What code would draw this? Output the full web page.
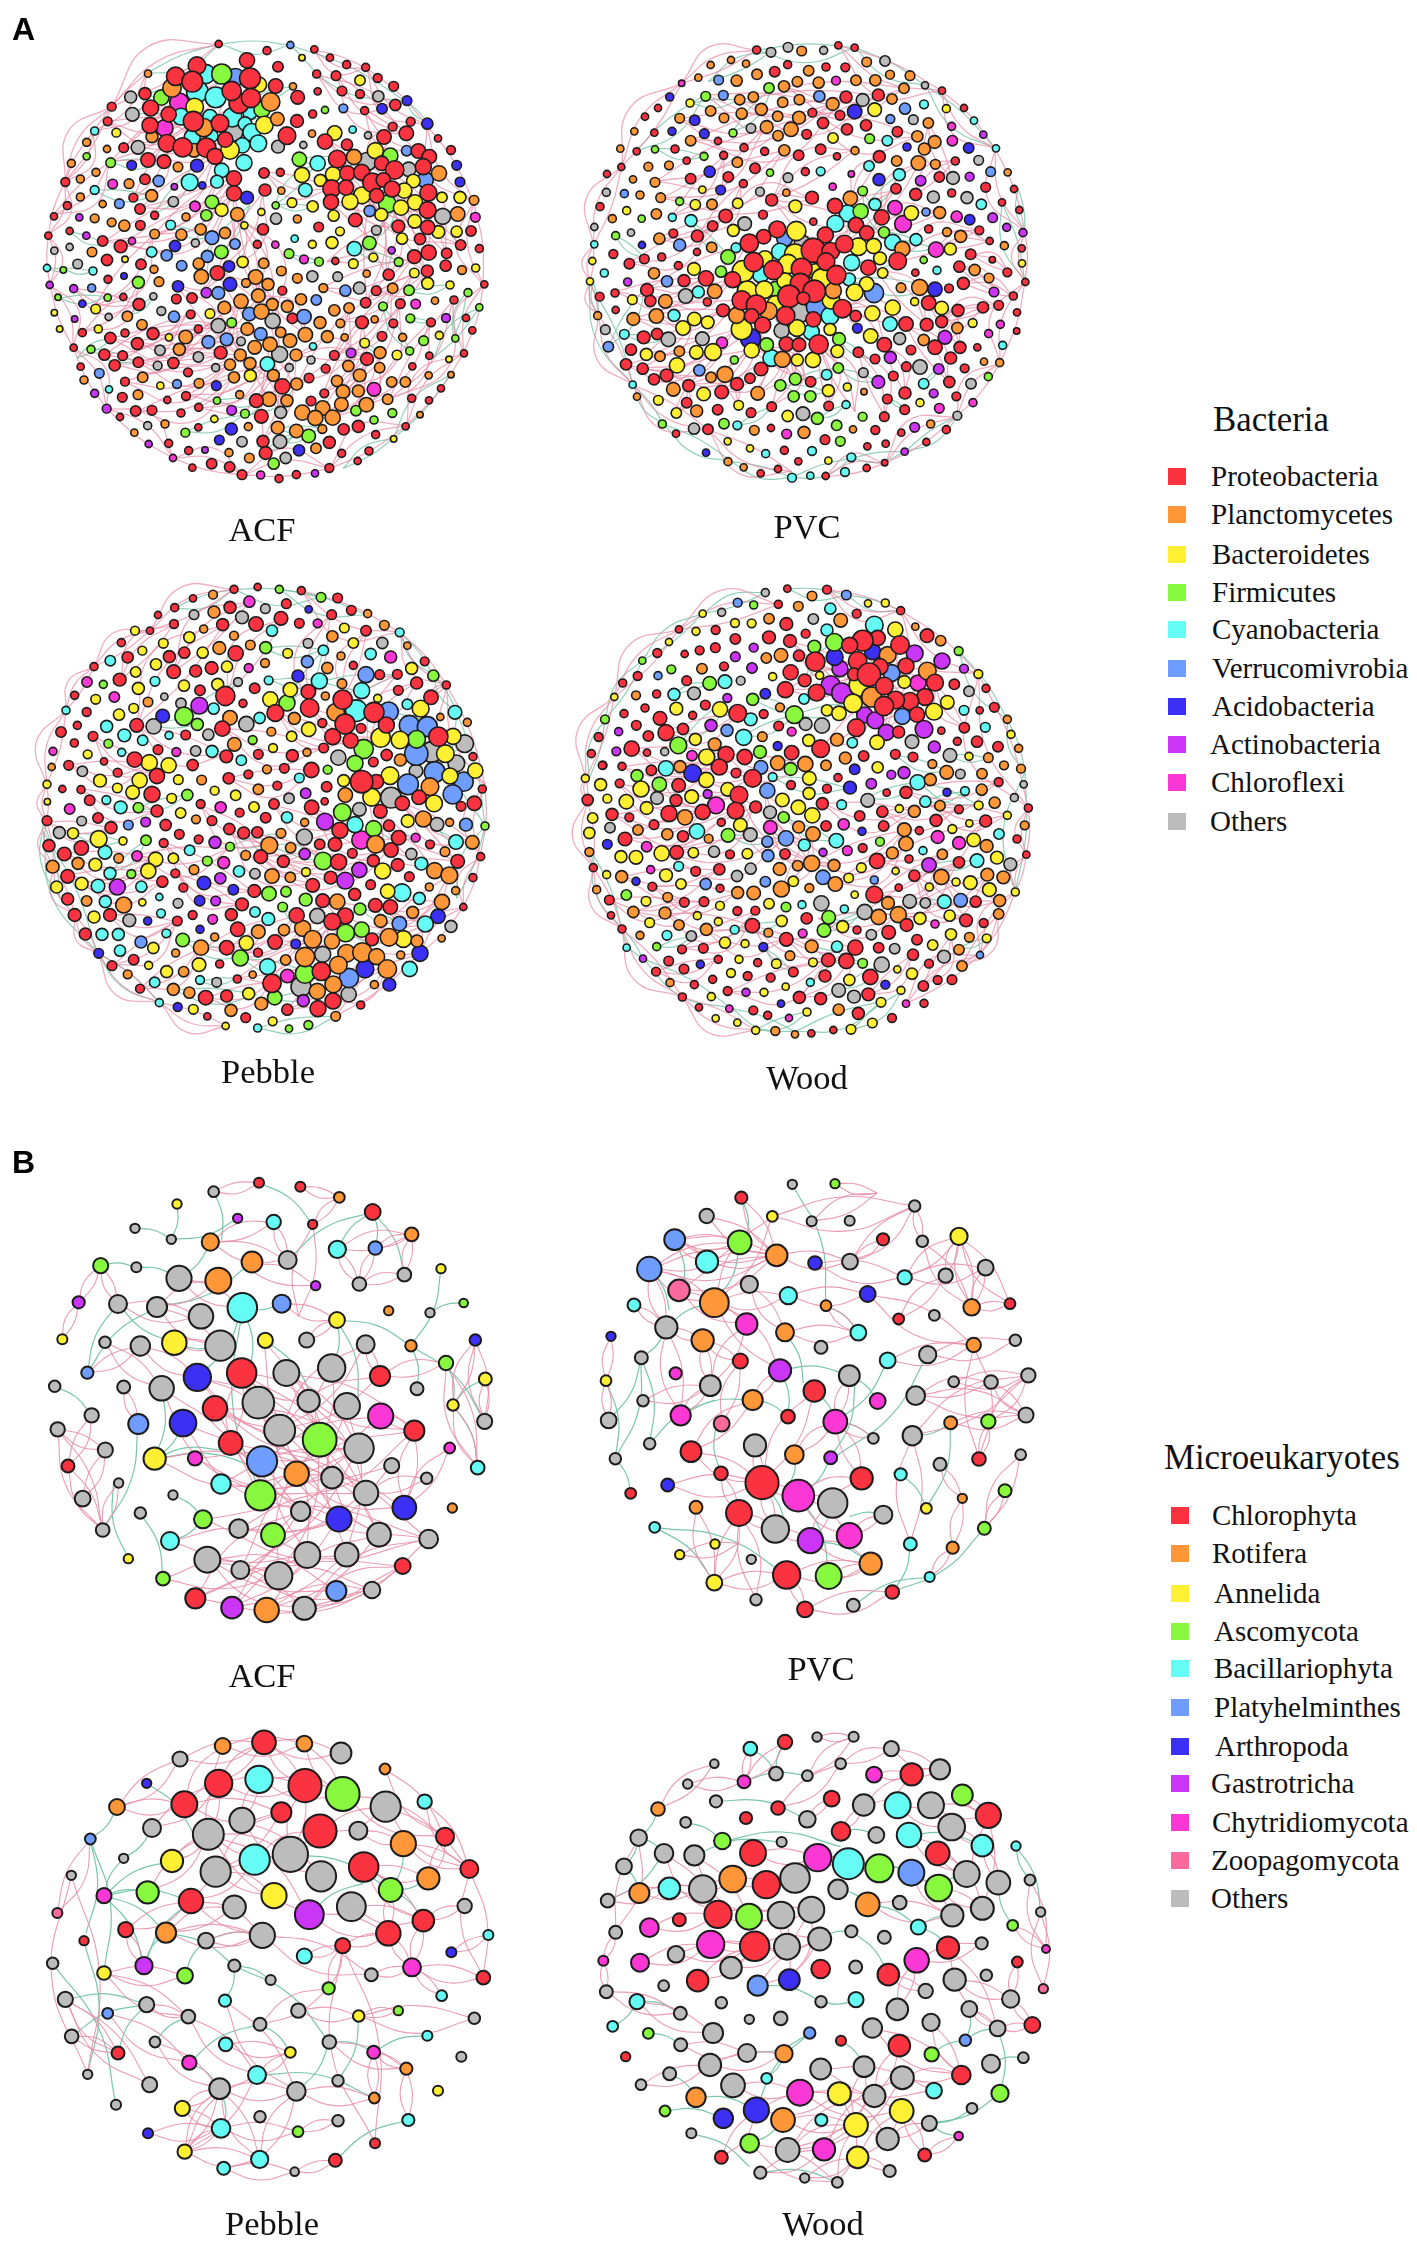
<!DOCTYPE html>
<html><head><meta charset="utf-8"><title>Co-occurrence networks</title>
<script src="https://cdn.jsdelivr.net/npm/chart.js@4"></script>
<style>
html,body{margin:0;padding:0;background:#fff}
#page{position:relative;width:1417px;height:2242px;overflow:hidden;background:#fff}
canvas{position:absolute}
.t{position:absolute;font-family:"Liberation Serif",serif;color:#111;white-space:nowrap;line-height:1}
.h{position:absolute;font-family:"Liberation Sans",sans-serif;font-weight:bold;font-size:32px;line-height:1;color:#000}
.s{position:absolute;width:18px;height:17px}
</style></head><body><div id="page"></div>
<script>
const bacteriaPhyla=["Proteobacteria","Planctomycetes","Bacteroidetes","Firmicutes","Cyanobacteria","Verrucomivrobia","Acidobacteria","Actinobacteria","Chloroflexi","Others"];
const bacteriaColors=["#fb3340","#ff9638","#fff033","#88f83f","#66fcf6","#6e9cff","#3d30f5","#cb35f5","#fb38d5","#bcbcbc"];
const eukaryotePhyla=["Chlorophyta","Rotifera","Annelida","Ascomycota","Bacillariophyta","Platyhelminthes","Arthropoda","Gastrotricha","Chytridiomycota","Zoopagomycota","Others"];
const eukaryoteColors=["#fb3340","#ff9638","#fff033","#88f83f","#66fcf6","#6e9cff","#3d30f5","#cb35f5","#fb38d5","#fb6a9c","#bcbcbc"];

// ---- A / ACF
const aACF_Proteobacteria=[[566,57,9],[711,77,10],[853,73,9],[900,98,9],[950,119,10],[1007,127,10],[860,147,10],[918,152,12],[1043,159,11],[1091,184,12],[863,199,9],[936,198,12],[990,207,11],[1096,240,14],[1004,257,10],[848,267,10],[801,288,16],[1088,305,11],[1142,290,11],[1129,325,18],[1062,336,18],[1224,340,9],[951,359,14],[885,350,19],[771,332,22],[744,125,13],[803,217,17],[651,106,19],[737,183,18],[501,122,22],[437,154,23],[660,160,26],[487,170,26],[345,206,15],[362,249,20],[416,268,19],[360,301,20],[245,245,11],[233,289,11],[281,368,12],[411,355,22],[458,367,24],[529,368,24],[555,394,20],[627,235,25],[663,219,24],[605,198,24],[490,289,25],[570,295,22],[586,344,19],[354,405,18],[402,410,17],[612,460,19],[612,505,19],[702,444,13],[751,442,10],[705,495,15],[1165,378,18],[1198,395,18],[1263,375,11],[1180,425,20],[922,402,22],[952,445,19],[995,442,20],[1055,415,18],[1094,435,23],[1027,473,24],[1060,465,18],[1086,492,20],[905,491,22],[948,488,19],[903,531,19],[1040,512,18],[1195,503,21],[1193,555,21],[976,585,17],[1105,604,16],[1193,607,18],[1323,618,13],[1170,642,14],[1292,660,13],[1348,671,10],[1196,683,19],[1153,695,17],[1250,685,13],[1247,722,14],[1192,738,15],[1076,749,14],[106,471,11],[112,542,10],[72,574,9],[119,618,9],[55,632,9],[218,648,13],[272,664,16],[331,601,12],[330,552,13],[310,518,11],[345,463,13],[374,571,10],[231,705,14],[333,718,13],[234,763,10],[280,816,9],[327,838,15],[439,822,12],[486,819,13],[482,868,11],[157,923,10],[241,939,14],[285,924,10],[369,926,15],[322,956,15],[131,968,9],[223,989,14],[278,992,12],[254,1021,14],[325,1012,13],[430,1014,14],[505,912,10],[152,1025,9],[474,1042,11],[285,1070,11],[277,1117,12],[412,1125,9],[468,1113,11],[317,1158,13],[366,1156,12],[270,1176,9],[453,1164,10],[506,1147,10],[505,1207,9],[416,1255,10],[476,1277,10],[487,1328,9],[545,1316,13],[599,1326,13],[636,1349,12],[747,1361,10],[799,1349,10],[898,1329,11],[983,1308,9],[1017,1278,10],[935,1285,10],[1037,1229,10],[1127,1204,9],[1197,1126,9],[1145,1120,10],[1233,1090,9],[1302,985,9],[1327,916,9],[1308,879,9],[1203,892,11],[1272,825,10],[1363,778,9],[1090,895,11],[1111,836,12],[1007,833,13],[1039,797,12],[996,892,16],[1056,934,12],[1198,992,9],[1147,1024,9],[913,991,12],[1011,1002,16],[887,1031,11],[837,1059,12],[757,1084,19],[679,1127,17],[694,1174,17],[843,1128,12],[883,1105,11],[941,1213,14],[985,1204,15],[898,1252,15],[699,1249,15],[707,1284,16],[757,797,11],[787,880,13],[572,983,16],[562,744,18],[866,606,12],[699,613,14],[682,658,10],[916,708,9]];
const aACF_Planctomycetes=[[354,146,9],[789,184,9],[426,189,23],[722,231,23],[742,282,17],[366,335,15],[846,326,9],[521,308,23],[492,376,17],[972,396,19],[1227,445,19],[170,352,10],[231,372,9],[124,415,10],[198,442,10],[151,462,10],[297,476,12],[444,426,12],[151,516,10],[218,537,9],[365,512,15],[194,580,11],[245,592,11],[283,602,14],[374,627,12],[454,629,14],[512,613,14],[468,576,10],[622,568,17],[585,624,14],[802,582,10],[754,497,9],[186,681,12],[372,733,10],[387,770,12],[506,716,14],[514,755,18],[701,715,13],[754,738,12],[677,756,18],[648,774,11],[714,778,15],[802,760,12],[880,789,11],[1010,746,9],[1088,790,13],[1215,827,9],[1296,735,11],[1332,526,12],[1283,567,18],[685,812,17],[633,829,18],[727,838,15],[813,823,14],[772,844,15],[583,848,16],[694,860,19],[913,856,14],[957,849,13],[1034,883,9],[292,874,13],[336,899,13],[652,912,16],[870,893,15],[931,895,11],[892,935,15],[826,929,18],[944,937,9],[752,922,13],[780,947,17],[720,958,18],[674,967,17],[467,936,17],[448,973,15],[631,990,15],[798,990,15],[660,1015,15],[600,1019,14],[1118,937,10],[1050,983,15],[955,1023,14],[1049,1028,13],[612,1057,14],[730,1051,15],[989,1051,16],[338,1057,13],[507,1075,12],[1085,1071,13],[1126,1071,13],[162,1065,10],[800,1077,15],[921,1068,14],[939,1100,17],[985,1098,15],[324,1109,12],[629,1109,10],[717,1123,18],[771,1127,15],[1073,1123,13],[934,1138,17],[1009,1139,18],[817,1163,19],[878,1149,18],[856,1179,19],[908,1178,19],[405,1197,10],[313,1223,9],[655,1205,10],[743,1208,16],[799,1218,17],[877,1212,11],[1170,1169,8],[597,1283,10],[658,1299,12],[858,1270,13],[1196,1051,9],[1263,1049,8]];
const aACF_Bacteroidetes=[[816,98,8],[990,166,13],[687,179,19],[259,323,11],[494,246,22],[703,300,22],[600,375,23],[914,324,18],[1036,377,20],[816,450,19],[871,466,15],[909,448,19],[1150,468,17],[1123,497,19],[996,511,21],[960,530,20],[1155,532,19],[1113,548,19],[1054,569,16],[1290,517,15],[1236,517,13],[848,544,14],[786,533,12],[911,572,14],[1154,589,17],[1225,621,16],[1280,620,14],[1116,641,14],[930,619,11],[575,555,16],[694,561,9],[643,601,9],[906,653,15],[847,658,10],[1030,697,11],[638,711,14],[970,716,12],[285,703,8],[1153,744,12],[1193,775,15],[1260,780,10],[1337,729,10],[197,852,12],[540,866,12],[73,863,8],[89,912,8],[205,912,10],[417,937,9],[1228,931,10],[1004,954,12],[1101,990,12],[661,1052,15],[391,1082,9],[1257,1003,8],[553,1182,9],[1091,1242,8]];
const aACF_Firmicutes=[[575,147,25],[394,218,19],[696,254,20],[885,255,9],[1081,392,19],[808,403,18],[1072,537,22],[546,531,17],[529,571,14],[737,541,9],[1018,654,17],[574,681,17],[242,413,12],[170,394,9],[100,735,8],[325,772,15],[233,818,9],[84,817,8],[777,686,12],[867,710,11],[1106,711,11],[1137,796,13],[1314,803,10],[1059,844,11],[1141,880,11],[1348,847,9],[605,893,12],[1181,947,12],[1276,940,9],[1139,978,10],[183,973,10],[561,1127,9],[645,1166,11],[978,1157,13],[1032,1185,10],[1087,1164,11],[466,1223,11],[836,1233,17],[731,1316,14]];
const aACF_Cyanobacteria=[[527,147,24],[502,200,27],[557,217,26],[453,275,21],[540,275,18],[607,277,24],[660,262,18],[645,296,17],[665,322,22],[487,337,20],[545,333,16],[685,355,21],[637,361,19],[642,413,20],[575,436,18],[479,472,21],[561,470,16],[826,495,17],[863,415,19],[968,314,9],[194,318,10],[194,495,11],[422,600,12],[365,681,13],[973,671,18],[794,641,9],[189,738,10],[51,729,9],[849,964,9],[712,1017,18],[237,1093,9]];
const aACF_Verrucomivrobia=[[617,157,22],[940,250,11],[1130,377,13],[1186,465,20],[1019,558,14],[386,468,14],[268,536,12],[546,638,17],[615,657,13],[532,694,15],[410,691,14],[455,722,13],[565,804,16],[185,789,10],[946,797,14],[658,867,17],[822,875,18],[859,825,13],[432,875,14],[692,927,16],[535,951,16],[590,943,16],[441,1077,11],[208,1045,12],[781,60,9]];
const aACF_Acidobacteria=[[1056,251,13],[1131,227,12],[1192,296,14],[1280,421,12],[1290,471,12],[305,421,12],[501,422,16],[517,481,9],[651,518,16],[435,663,14],[597,724,14],[282,753,8],[600,778,17],[444,784,14],[157,836,9],[559,1082,12],[604,1212,15],[568,1245,12],[807,1276,14]];
const aACF_Actinobacteria=[[148,577,9],[169,632,9],[433,485,8],[59,780,9],[131,791,10],[134,882,8],[529,803,13],[1085,676,9],[1248,879,11],[963,984,12],[194,1105,10],[230,1151,11],[605,1156,12],[356,1257,9],[525,1275,8],[855,1345,9]];
const aACF_Chloroflexi=[[448,233,24],[404,309,21],[248,477,12],[495,544,13],[306,648,9],[736,659,9],[822,703,11],[1157,837,12],[1336,577,12],[1032,1093,17],[429,1299,9],[692,1350,10]];
const aACF_Others=[[302,216,15],[307,268,17],[1045,214,14],[1014,331,9],[324,367,17],[744,365,16],[820,360,9],[612,322,22],[1011,410,23],[1136,433,18],[430,530,13],[738,581,14],[1039,616,12],[1238,574,20],[73,677,9],[119,666,9],[143,717,12],[496,654,10],[847,754,14],[923,755,12],[988,789,15],[370,814,9],[394,858,11],[236,876,9],[728,888,19],[565,902,18],[633,949,11],[390,976,13],[749,988,20],[505,996,13],[843,1005,10],[383,1022,11],[557,1028,10],[778,1028,10],[752,1162,15],[353,1202,10],[636,1250,13],[750,1250,17],[767,1299,14]];
const aACF_pink=[[567,57,245,245],[245,245,105,470],[850,75,1010,130],[1010,130,1190,300],[1190,300,1330,530],[1330,530,1360,780],[1360,780,1300,985],[1300,985,1130,1200],[1130,1200,900,1330],[900,1330,640,1350],[640,1350,430,1300],[430,1300,230,1150],[230,1150,130,970],[130,970,60,780],[60,780,55,630],[55,630,105,470],[105,470,190,320],[190,320,350,145],[900,350,1200,560],[920,400,1190,610],[1000,410,1290,660],[860,150,1100,240],[920,150,1130,330],[1000,250,1160,380],[1090,300,1020,440],[1195,680,1090,490],[1250,690,1050,420],[1190,740,900,530],[1070,750,960,445],[1010,830,1030,470],[700,440,905,490],[600,370,360,250],[350,400,630,240],[240,410,500,200],[230,290,490,290],[280,370,610,150],[310,520,410,350],[330,550,555,395],[220,650,610,460],[270,660,610,505],[370,630,560,470],[520,800,610,505],[560,740,700,500],[680,810,600,560],[730,890,620,570],[1010,1000,800,990],[830,930,700,810],[750,990,560,740],[630,990,440,780],[660,1015,370,930],[450,970,690,810],[430,1010,630,830],[320,950,650,910],[240,940,560,900],[220,990,470,870],[250,1020,510,910],[280,1070,600,1020],[320,1010,630,990],[320,1160,610,1060],[470,1110,710,1020],[505,1150,720,1050],[680,1130,800,990],[700,1250,720,960],[750,1160,660,1015],[860,1180,1010,1000],[910,1180,1050,980],[940,1100,1110,840],[1010,1140,1200,890],[1075,1125,1270,825],[800,1080,960,850],[880,1105,1000,890],[915,990,1090,790],[1040,800,1190,740],[870,790,1150,700],[930,890,1150,745],[890,710,1060,600],[130,790,320,840],[160,920,330,770],[190,850,370,630],[70,570,240,410]];
const aACF_green=[[570,57,780,60],[780,60,1130,230],[350,145,570,57],[1130,230,1190,290],[300,270,610,130],[340,210,620,160],[790,185,640,260],[740,280,600,330],[120,620,230,660],[100,730,190,740],[240,410,400,410],[190,495,370,515],[370,570,500,420],[500,720,660,540],[800,400,1000,410],[860,415,730,545],[1020,650,1100,550],[970,670,1110,710],[1140,800,1260,780],[1310,800,1270,940],[1140,880,1200,890],[1060,845,1140,980],[1350,845,1210,1000],[1260,1050,1090,1240],[1090,1240,940,1330],[750,1250,840,1230],[700,1280,800,1220],[740,1210,880,1210],[660,1170,800,1080],[560,1125,700,1130],[465,1220,640,1170],[250,940,140,1000],[180,970,320,1010],[85,820,230,815],[55,730,100,735],[300,870,370,815],[420,600,540,640],[780,690,870,710],[740,540,850,545],[1000,950,1050,985]];

// ---- A / PVC
const aPVC_Proteobacteria=[[575,75,10],[820,61,9],[869,68,9],[668,119,10],[629,140,13],[783,126,10],[841,127,11],[843,216,15],[940,210,15],[1131,197,9],[1197,249,9],[279,249,9],[240,275,9],[742,263,11],[825,271,12],[774,294,14],[903,301,14],[846,313,14],[725,328,12],[268,323,9],[997,320,13],[330,372,10],[215,379,9],[459,348,9],[537,368,10],[599,379,10],[767,373,13],[476,391,10],[701,391,13],[816,394,9],[943,395,15],[365,407,9],[169,426,9],[126,447,9],[570,430,13],[721,440,10],[377,461,13],[490,456,13],[535,476,10],[1123,456,13],[1171,408,10],[1262,487,12],[1347,492,9],[993,491,13],[1052,508,15],[1160,504,10],[620,525,15],[741,518,16],[1311,532,9],[1363,555,9],[105,545,10],[482,573,17],[594,569,11],[950,577,19],[810,543,19],[745,590,9],[1091,612,10],[1243,616,11],[1274,648,9],[443,603,13],[325,625,11],[397,633,15],[873,600,19],[905,624,18],[637,613,21],[596,635,18],[553,655,23],[781,630,20],[745,676,30],[797,679,22],[838,657,22],[1370,670,9],[145,687,11],[396,681,9],[290,696,10],[238,702,12],[193,716,13],[340,722,10],[1217,688,13],[1282,704,8],[566,711,24],[625,735,24],[710,731,26],[783,710,22],[814,750,24],[910,728,19],[998,708,22],[423,760,19],[357,767,15],[503,764,20],[1183,725,14],[1051,743,9],[1327,742,11],[1381,771,9],[706,775,25],[1195,775,15],[246,795,16],[150,804,10],[104,815,11],[1152,790,11],[1345,813,10],[748,799,28],[672,814,28],[256,828,14],[427,831,10],[530,826,24],[574,840,25],[715,820,16],[1091,834,18],[152,855,9],[1356,862,9],[1301,841,12],[1254,847,14],[1179,856,15],[474,856,16],[832,851,23],[662,872,23],[560,873,18],[745,883,19],[593,900,20],[872,873,14],[1023,897,18],[1085,899,16],[1130,890,15],[1355,918,8],[236,937,16],[276,927,14],[664,957,18],[702,959,17],[761,958,24],[958,959,18],[880,982,13],[1038,975,12],[1110,967,18],[1185,967,15],[198,974,14],[1237,967,9],[930,1002,12],[183,1018,14],[233,1031,14],[588,1032,17],[1157,999,15],[1024,1025,12],[1199,1030,11],[305,1051,16],[267,1063,14],[555,1060,13],[985,1053,12],[737,1070,13],[371,1082,15],[516,1077,16],[1153,1071,14],[470,1101,17],[1020,1104,15],[967,1122,12],[1174,1114,11],[365,1133,13],[620,1145,12],[791,1143,12],[458,1154,13],[1019,1154,12],[558,1163,12],[958,1175,12],[429,1213,13],[618,1209,9],[931,1215,11],[1144,1214,10],[1009,1223,9],[333,1226,9],[780,1244,12],[907,1264,9],[962,1256,9],[658,1276,10],[1084,1251,9],[700,1309,9],[959,1313,8],[905,1329,9],[639,1332,9],[587,1345,9],[782,1353,9]];
const aPVC_Planctomycetes=[[710,78,12],[498,105,9],[437,120,9],[543,116,9],[905,111,12],[731,137,13],[576,148,13],[400,158,9],[515,167,14],[975,149,11],[1035,152,12],[657,184,14],[697,170,13],[761,173,14],[873,166,13],[931,166,14],[1017,190,13],[565,216,13],[524,224,13],[703,224,13],[981,222,13],[653,232,13],[803,237,16],[437,258,13],[589,253,15],[344,280,12],[477,279,12],[530,266,14],[638,274,13],[702,278,16],[1090,294,13],[208,319,9],[605,306,16],[678,313,18],[377,347,13],[639,332,13],[1057,334,14],[1109,351,16],[1078,372,15],[658,376,14],[870,377,10],[166,371,9],[995,408,13],[1060,414,18],[1111,418,12],[517,412,13],[250,425,11],[312,421,11],[204,463,9],[270,472,12],[225,510,10],[287,518,12],[1328,442,9],[664,503,9],[856,520,18],[441,538,13],[274,567,13],[142,581,10],[1124,563,15],[1146,621,11],[1187,634,15],[283,641,14],[440,667,13],[1318,662,10],[1012,672,19],[1229,735,14],[267,745,14],[449,799,18],[1272,759,12],[1008,788,12],[1064,787,20],[805,797,20],[301,829,17],[98,872,10],[205,882,16],[274,873,18],[610,858,22],[515,871,20],[1177,909,14],[1076,945,14],[343,979,13],[285,994,13],[652,1003,20],[1257,1010,9],[1304,1013,10],[438,1057,13],[480,1048,20],[325,1093,17],[216,1115,9],[578,1105,17],[897,1100,8],[395,1158,15],[717,1222,15],[568,1216,12],[864,1213,9],[1097,1197,10],[489,1310,10],[536,1327,9]];
const aPVC_Bacteroidetes=[[375,234,10],[929,254,17],[1144,251,10],[804,339,13],[412,494,9],[185,557,10],[518,535,13],[391,539,13],[691,544,16],[1039,564,18],[505,616,15],[694,618,24],[880,665,22],[926,663,19],[1156,672,15],[82,708,9],[945,700,16],[690,688,26],[600,700,19],[669,717,24],[534,739,27],[387,732,16],[953,744,13],[75,769,9],[1371,715,9],[752,740,20],[771,762,26],[660,768,20],[905,777,18],[547,798,25],[598,794,22],[869,802,21],[202,824,12],[798,826,22],[631,836,20],[1049,830,10],[922,865,19],[983,848,19],[1130,849,17],[388,882,17],[354,909,18],[428,892,16],[530,913,26],[696,909,21],[795,913,15],[917,933,18],[560,976,19],[244,988,15],[394,982,17],[444,981,21],[817,979,16],[1223,894,11],[697,1005,15],[744,1005,19],[336,1021,19],[790,1097,15],[847,1086,10],[416,1107,17],[280,1126,12],[521,1141,12],[1065,1133,10],[334,1164,13],[668,1173,14],[488,1249,9],[555,1270,9],[790,1307,9]];
const aPVC_Firmicutes=[[612,189,13],[422,214,12],[504,324,10],[914,341,12],[270,373,9],[417,394,10],[615,443,9],[893,498,12],[344,529,10],[230,581,9],[887,559,19],[957,622,14],[152,632,10],[489,696,18],[468,740,14],[1076,705,9],[632,792,19],[822,942,16],[605,959,17],[508,1005,10],[820,1029,13],[1270,1055,10],[691,1062,15],[646,1081,14],[686,1114,14],[736,1114,14],[893,1175,11],[757,1180,15],[815,1201,13],[477,1196,13],[292,1197,10],[826,1249,12]];
const aPVC_Cyanobacteria=[[1077,238,11],[1227,287,9],[967,347,13],[1293,370,9],[912,423,13],[767,439,11],[1003,449,15],[930,538,15],[1249,538,13],[848,565,21],[811,596,21],[322,577,10],[378,587,15],[88,658,9],[983,652,20],[1053,644,15],[513,668,12],[645,680,21],[860,713,20],[118,744,10],[1116,736,10],[587,749,20],[852,763,16],[400,801,15],[327,871,15],[795,873,22],[975,897,18],[178,928,12],[739,921,20],[619,999,21],[1313,961,10],[785,1049,13],[203,1079,9],[1076,1076,13],[843,1139,10],[517,1201,11],[602,1286,10],[741,1278,11],[859,1297,11],[840,1341,11],[736,1352,9],[681,1358,11]];
const aPVC_Verrucomivrobia=[[461,165,12],[475,211,12],[763,214,14],[1020,251,14],[976,282,11],[178,506,10],[659,640,20],[344,660,15],[1277,440,12],[306,769,14],[1083,561,10],[927,804,24],[753,846,24],[130,965,13],[403,1036,14]];
const aPVC_Acidobacteria=[[314,216,10],[869,260,18],[389,286,13],[321,319,10],[418,326,12],[1211,369,13],[1026,366,10],[434,440,14],[942,464,15],[467,495,12],[1214,584,13],[231,660,9],[1110,793,18],[557,941,25],[877,910,12],[423,1283,9]];
const aPVC_Actinobacteria=[[1255,329,9],[1067,467,13],[1214,455,11],[1283,578,12],[1325,607,10],[1374,623,10],[188,771,10],[1287,801,12],[1140,937,17],[976,997,15],[1121,1032,13],[940,1071,16],[1106,1105,11],[1049,1207,12],[1019,1280,9]];
const aPVC_Chloroflexi=[[350,175,8],[813,167,11],[1160,304,10],[1162,347,13],[859,447,8],[803,485,9],[990,548,18],[1175,575,14],[1014,597,21],[1113,674,19],[471,953,14],[1306,898,10],[1271,926,10],[1123,1150,12],[1224,1133,10],[665,1227,12]];
const aPVC_Others=[[618,82,12],[669,67,12],[776,76,10],[960,108,13],[1080,181,9],[893,225,16],[558,310,12],[1045,284,12],[1241,406,12],[669,458,12],[1164,459,16],[124,502,10],[585,500,11],[1105,516,15],[1206,518,15],[539,596,17],[88,606,9],[198,623,9],[712,655,20],[362,813,18],[703,863,25],[650,917,19],[121,914,12],[310,943,18],[412,941,17],[1004,941,15],[1065,1026,18],[895,1043,12],[1218,1076,13],[714,1166,17],[387,1211,14],[1177,1172,11]];
const aPVC_pink=[[575,75,350,175],[350,175,170,425],[170,425,85,660],[85,660,75,770],[75,770,100,870],[100,870,205,1080],[205,1080,430,1215],[430,1215,680,1340],[820,61,1130,197],[1130,197,1290,370],[1290,370,1380,620],[1380,620,1380,770],[1380,770,1305,1015],[1305,1015,1175,1175],[1175,1175,960,1315],[960,1315,780,1355],[420,210,800,240],[520,225,940,210],[660,185,1020,190],[740,260,1060,335],[340,280,700,280],[380,345,840,215],[270,470,600,310],[290,520,660,375],[320,575,480,390],[400,630,530,475],[280,640,480,570],[190,715,440,600],[250,790,550,655],[150,800,420,760],[300,830,500,765],[205,880,530,825],[270,870,470,855],[240,990,390,885],[180,1020,440,980],[230,1030,510,915],[305,1050,560,975],[370,1080,590,900],[470,1100,620,1000],[580,1105,660,955],[620,1145,700,960],[790,1145,760,960],[1020,1105,960,960],[1150,1070,1020,900],[1185,965,1090,835],[1255,845,1110,970],[1345,815,1195,775],[1290,800,1180,725],[1300,840,1130,890],[1330,740,1220,690],[1270,650,1110,670],[1240,615,1000,710],[1125,565,910,625],[1060,415,950,575],[1170,405,1050,510],[1090,295,1160,460],[940,395,860,520],[870,375,620,525],[740,520,480,570],[620,525,900,600],[990,495,840,655],[1020,900,830,850],[960,960,800,830],[1085,900,930,730],[730,1070,560,975],[690,1060,510,770],[870,1160,760,960],[960,1175,880,980],[520,1140,470,1050],[330,1165,370,1080]];
const aPVC_green=[[575,75,870,68],[618,82,430,170],[1080,180,1290,370],[870,68,1080,181],[1360,490,1380,620],[1310,530,1380,770],[85,770,100,870],[70,770,205,1080],[205,1080,295,1197],[295,1197,500,1310],[500,1310,680,1358],[680,1358,860,1300],[860,1300,1020,1280],[1020,1280,1180,1172],[130,965,240,790],[180,930,310,940],[150,630,240,700],[380,590,490,695],[470,740,630,790],[850,760,1110,790],[980,650,1110,670],[860,715,1000,710],[1110,790,1090,835],[1075,1075,1120,1030],[690,1060,810,1030],[650,1080,790,1100],[760,1180,840,1140],[820,1030,940,1070],[970,1120,1020,1150],[520,1200,620,1145],[210,380,420,210],[270,370,420,395],[500,325,620,190],[380,235,520,225],[890,500,980,650],[890,560,1000,450],[960,620,1050,645],[820,940,910,1000]];

// ---- A / Pebble
const aPeb_Proteobacteria=[[612,73,10],[683,66,9],[814,77,10],[923,99,12],[489,100,9],[434,128,10],[600,127,15],[769,116,12],[384,150,9],[905,149,12],[964,136,12],[753,160,17],[678,177,18],[578,179,15],[432,177,11],[808,175,12],[360,197,9],[1008,197,13],[274,233,10],[293,277,14],[418,275,15],[463,263,14],[617,265,19],[1184,289,11],[431,320,17],[497,318,15],[545,309,16],[192,305,10],[970,301,10],[269,344,16],[1049,329,12],[1102,328,12],[1160,354,15],[134,391,10],[510,376,13],[674,370,13],[1105,376,12],[1249,360,10],[170,441,11],[586,393,24],[639,415,10],[835,380,18],[938,404,24],[1203,397,18],[839,429,23],[736,444,21],[1032,442,25],[1069,480,20],[945,477,25],[320,481,17],[142,481,10],[93,501,13],[189,514,12],[577,491,19],[993,490,12],[133,534,10],[467,510,12],[877,474,11],[908,515,20],[962,527,19],[1225,515,24],[881,549,12],[384,554,12],[222,589,9],[314,584,19],[589,574,16],[685,568,12],[787,572,15],[1030,591,12],[1070,570,14],[116,601,12],[488,600,14],[763,610,12],[844,615,19],[1329,575,10],[263,623,11],[381,633,19],[596,640,14],[655,628,11],[1039,650,18],[995,650,28],[97,672,9],[153,674,10],[366,688,20],[742,662,11],[890,665,13],[1357,672,10],[179,706,13],[512,717,11],[732,717,13],[884,709,9],[1117,715,18],[1167,697,18],[1293,724,12],[1333,715,18],[204,759,13],[381,738,15],[845,727,18],[1051,739,17],[629,743,11],[51,767,12],[243,788,15],[546,767,12],[707,758,13],[407,780,14],[1077,782,14],[598,792,14],[930,796,20],[448,808,12],[641,804,15],[682,802,14],[506,823,11],[57,842,15],[154,849,18],[869,838,13],[915,838,17],[401,834,11],[1106,818,18],[1200,838,11],[103,867,17],[692,875,17],[967,865,12],[1083,855,18],[1352,875,10],[1283,889,17],[1030,887,15],[760,889,15],[926,891,20],[1103,900,16],[113,934,17],[436,925,11],[902,938,16],[1138,935,12],[1329,938,10],[397,950,14],[848,961,17],[460,968,11],[1022,959,12],[673,978,16],[113,1002,15],[974,988,15],[636,1018,16],[878,1007,17],[1036,1021,17],[1081,1026,18],[1300,1026,9],[134,1050,16],[240,1050,16],[604,1049,15],[488,1050,11],[800,1051,19],[946,1053,20],[907,1070,21],[442,1068,12],[166,1107,15],[623,1093,18],[735,1131,18],[1026,1123,16],[590,1148,18],[684,1163,11],[311,1184,13],[569,1197,10],[246,1202,12],[622,1242,10],[874,1219,23],[726,1255,23],[330,1271,11],[527,1298,18],[590,1293,15],[772,1334,14],[909,1308,20],[864,1331,20],[992,1320,10],[647,1358,12],[532,1354,9]];
const aPeb_Planctomycetes=[[549,89,11],[1013,146,10],[552,141,15],[1063,181,12],[521,192,10],[907,214,14],[612,212,11],[1132,242,9],[661,240,12],[568,249,16],[933,273,10],[705,294,11],[892,309,14],[936,356,12],[886,393,10],[354,411,12],[917,442,22],[600,458,18],[793,460,15],[1231,456,9],[1312,472,10],[724,500,11],[613,538,17],[831,562,10],[1111,585,15],[711,613,11],[65,606,9],[515,645,12],[685,673,13],[946,690,18],[498,763,11],[1200,665,22],[824,772,10],[1180,762,20],[1259,772,10],[753,805,12],[718,841,21],[1327,832,17],[1037,838,22],[782,848,13],[1245,860,12],[266,880,12],[144,895,15],[68,905,16],[647,871,12],[492,914,12],[1214,917,20],[1258,931,21],[726,933,18],[781,937,13],[1198,966,10],[1277,977,10],[170,1008,13],[281,1020,20],[922,1010,19],[1236,1011,19],[1148,1042,15],[1052,1068,16],[818,1090,20],[685,1100,17],[762,1095,14],[1077,1117,22],[848,1123,22],[906,1129,19],[1161,1128,15],[1235,1120,9],[554,1116,10],[513,1148,19],[825,1176,24],[437,1164,10],[950,1165,22],[997,1162,24],[1040,1175,20],[1112,1170,10],[767,1185,13],[925,1200,22],[1072,1212,23],[461,1220,13],[293,1228,11],[668,1229,9],[910,1258,21],[1033,1259,10],[862,1279,20],[430,1273,15],[478,1283,14],[694,1316,16],[603,1336,15],[917,1354,12]];
const aPeb_Bacteroidetes=[[315,197,11],[943,189,12],[478,217,14],[400,235,12],[970,234,13],[518,263,14],[337,257,11],[773,265,12],[378,298,14],[591,305,14],[1145,310,15],[317,321,13],[462,362,14],[563,358,15],[325,370,15],[781,374,18],[1043,400,10],[197,403,12],[721,403,19],[311,430,12],[267,449,14],[1172,431,21],[836,493,18],[785,514,13],[1052,518,24],[1110,525,22],[1269,514,20],[729,549,11],[1246,566,22],[173,568,11],[358,593,20],[416,601,19],[1336,617,19],[1080,632,22],[1260,633,20],[329,646,19],[941,647,15],[445,644,12],[210,647,16],[51,658,10],[262,669,12],[308,682,17],[554,677,11],[1025,697,22],[425,700,12],[617,691,13],[1212,715,21],[52,710,8],[672,726,13],[452,744,13],[1133,768,16],[129,805,14],[206,822,21],[279,828,10],[430,880,13],[377,883,18],[196,899,16],[355,918,19],[1058,918,20],[828,921,11],[155,956,16],[80,966,15],[1073,979,18],[337,1012,9],[192,1056,15],[649,1134,18],[1120,1122,21],[370,1149,14],[356,1201,10],[507,1199,17],[410,1220,15],[656,1286,15],[490,1333,12],[728,1369,11],[587,1383,9]];
const aPeb_Firmicutes=[[873,97,12],[748,73,10],[707,248,15],[1210,332,14],[220,358,10],[771,414,20],[462,454,23],[502,478,15],[668,525,11],[1160,523,22],[235,536,11],[1001,552,24],[975,595,20],[893,614,11],[472,690,14],[325,728,13],[937,742,22],[1031,791,20],[1365,783,10],[348,826,13],[600,845,11],[879,888,22],[532,888,12],[304,927,11],[717,986,18],[768,980,13],[827,1004,16],[758,1026,12],[990,1032,15],[947,1104,22],[995,1094,19],[458,1125,17],[631,1179,20],[825,1226,24],[734,1298,18],[835,1380,11],[777,1391,9]];
const aPeb_Cyanobacteria=[[1109,202,11],[726,197,14],[880,256,13],[1022,267,14],[241,287,13],[375,349,12],[716,346,11],[868,348,20],[995,377,20],[108,436,10],[551,431,14],[1132,418,13],[979,437,27],[1275,442,17],[689,459,14],[230,484,15],[283,511,16],[338,526,13],[417,511,10],[275,562,10],[546,559,15],[634,586,13],[808,639,12],[229,705,11],[272,727,16],[771,757,14],[975,779,20],[1278,831,18],[225,862,17],[479,856,13],[1174,896,16],[240,925,15],[627,919,14],[204,963,17],[334,965,14],[1116,983,22],[1168,1000,15],[226,1010,15],[388,996,9],[393,1045,11],[675,1041,13],[715,1062,16],[1186,1077,20],[216,1108,15],[265,1108,15],[409,1105,11],[270,1157,14],[713,1205,20],[1139,1212,19],[374,1252,13],[510,1245,11],[388,1313,10],[683,1389,10]];
const aPeb_Verrucomivrobia=[[832,290,15],[1008,329,20],[1076,440,24],[1138,481,25],[1192,485,25],[1159,566,29],[1214,621,26],[1134,658,26],[1301,650,24],[1268,688,24],[295,780,12],[1308,779,16],[1108,1076,18],[333,1131,15],[957,1239,24]];
const aPeb_Acidobacteria=[[836,133,9],[804,333,15],[398,453,17],[522,954,17],[610,974,13],[509,1007,13],[353,1068,10],[510,1093,10],[797,1137,12],[1224,1054,18],[1170,1165,20],[206,1165,12],[1005,1212,22],[1078,1259,16],[443,1326,11]];
const aPeb_Actinobacteria=[[508,422,21],[347,771,12],[827,685,13],[885,770,21],[555,832,15],[824,867,14],[988,915,19],[946,947,21],[262,966,20],[571,940,14],[557,1008,12],[820,1307,15]];
const aPeb_Chloroflexi=[[658,110,14],[863,175,11],[1082,276,15],[171,351,13],[253,396,13],[656,309,11],[69,559,10],[439,561,11],[119,732,13],[572,727,14],[993,825,23],[1157,818,11],[321,873,13],[581,893,15],[548,1063,12],[772,1233,17]];
const aPeb_Others=[[706,131,12],[492,149,12],[636,157,16],[1057,234,14],[834,235,12],[624,351,11],[403,395,9],[453,415,13],[371,484,19],[649,477,19],[535,509,14],[497,558,13],[925,578,19],[157,619,13],[1279,595,21],[1205,561,26],[1304,536,22],[1158,618,17],[1083,698,26],[777,700,13],[988,733,17],[1221,778,17],[155,768,12],[88,803,15],[823,816,20],[1144,867,14],[675,926,13],[444,1015,12],[298,1066,16],[862,1053,19],[1263,1084,15],[878,1168,20],[560,1252,12],[813,1265,25],[956,1288,19]];
const aPeb_pink=[[612,73,360,197],[360,197,192,305],[192,305,108,436],[108,436,50,660],[50,660,50,770],[50,770,70,905],[70,905,135,1050],[135,1050,205,1165],[205,1165,390,1313],[390,1313,590,1383],[814,77,1110,202],[1110,202,1250,360],[1250,360,1365,660],[1365,660,1350,875],[1350,875,1300,1026],[1300,1026,1170,1165],[1170,1165,917,1354],[660,110,430,320],[580,180,320,480],[430,180,270,345],[760,160,590,390],[900,150,840,430],[1010,200,940,400],[1100,330,940,480],[1160,350,1010,550],[1250,360,1200,400],[840,430,1050,520],[740,445,960,530],[580,490,880,550],[320,480,590,570],[190,515,380,630],[115,600,360,600],[150,670,380,740],[50,770,240,790],[100,865,370,880],[115,930,350,920],[155,955,400,950],[230,1050,440,1070],[320,870,600,850],[640,800,920,890],[690,875,1030,890],[760,890,1110,820],[1000,650,1280,890],[1120,715,1330,830],[1050,740,1210,915],[850,730,1080,860],[730,720,930,800],[590,640,850,615],[510,720,720,840],[600,790,850,960],[400,830,670,980],[440,925,630,1020],[520,1150,720,1060],[590,1150,800,1050],[630,1180,820,1090],[730,1130,950,1050],[720,1250,900,1070],[530,1300,730,1250],[770,1335,960,1160],[910,1310,1070,1210],[1030,1120,1260,930],[1035,1020,1230,1010],[880,1010,1190,1080],[620,1240,850,1125],[330,1270,510,1150],[250,1200,440,1070]];
const aPeb_green=[[612,73,873,97],[748,73,1010,150],[430,130,612,73],[1110,202,1210,330],[1210,330,1280,440],[1280,440,1365,783],[1365,783,1280,1000],[40,770,90,1000],[40,800,200,1160],[200,1160,390,1313],[680,1389,917,1354],[1230,800,1280,830],[1150,560,1310,540],[1080,440,1270,510],[870,350,1100,330],[770,415,880,255],[460,455,620,350],[500,480,370,485],[320,730,470,690],[240,925,350,825],[130,805,280,830],[600,845,750,805],[880,890,720,840],[1030,790,1160,820],[990,1030,1110,1075],[950,1105,1110,1120],[760,1030,820,1090],[630,1180,830,1220],[460,1125,630,1180],[430,1275,680,1290],[730,1300,860,1280],[510,1250,620,1240],[1180,1080,1220,1050],[550,430,460,455],[700,250,880,255],[720,345,880,350]];

// ---- A / Wood
const aWood_Proteobacteria=[[667,71,9],[786,74,11],[640,118,10],[875,146,11],[1007,137,10],[664,177,16],[342,193,9],[452,195,11],[722,206,11],[612,217,16],[1086,212,17],[511,222,13],[675,228,16],[938,219,19],[893,227,26],[854,241,20],[1005,240,23],[451,248,12],[404,256,11],[277,264,11],[359,267,9],[702,272,14],[751,290,24],[878,288,23],[945,305,20],[1023,303,20],[477,304,11],[218,333,11],[677,322,19],[867,328,16],[912,329,29],[719,346,16],[173,354,10],[365,347,12],[1110,353,21],[1168,358,13],[958,363,22],[661,374,20],[755,383,21],[275,387,10],[1263,370,10],[1080,396,21],[1035,409,22],[992,405,22],[957,423,24],[421,420,12],[240,429,10],[1056,449,19],[518,445,22],[596,447,11],[1244,436,9],[1288,427,12],[177,446,10],[383,451,10],[285,460,17],[214,481,12],[354,492,14],[874,488,22],[641,483,12],[1129,497,9],[1198,488,13],[1001,501,15],[303,503,20],[101,516,11],[250,513,13],[1177,529,10],[1236,530,14],[200,551,19],[79,566,10],[246,563,9],[483,568,20],[539,576,19],[680,563,18],[767,551,22],[991,568,12],[1044,576,12],[896,573,13],[1299,545,13],[171,604,10],[259,616,13],[463,606,20],[513,624,12],[112,601,10],[563,640,22],[164,655,11],[341,661,17],[1301,651,11],[678,660,11],[819,638,10],[786,671,11],[965,683,9],[1023,682,15],[522,690,22],[68,705,14],[333,706,15],[572,726,15],[772,716,15],[1182,733,11],[413,741,19],[512,737,21],[312,746,20],[141,748,15],[952,740,14],[1390,729,10],[193,757,11],[884,753,13],[1262,768,15],[1113,766,15],[267,779,12],[469,772,10],[956,783,13],[783,783,13],[1063,797,10],[180,822,17],[354,814,14],[1356,822,10],[893,849,11],[335,862,17],[660,867,13],[495,868,11],[1384,869,9],[936,888,19],[1032,882,10],[1182,892,14],[85,908,10],[463,913,14],[392,919,12],[1048,932,14],[262,965,11],[465,970,10],[1001,968,9],[133,1005,12],[928,989,21],[1232,1010,14],[417,1010,12],[358,1012,12],[517,1038,11],[571,1037,11],[138,1051,9],[725,1060,14],[1203,1066,16],[562,1082,18],[1025,1080,16],[1256,1074,11],[171,1092,10],[971,1102,17],[876,1095,10],[664,1123,17],[1056,1124,13],[871,1148,19],[941,1148,13],[351,1153,11],[415,1150,12],[1044,1169,14],[460,1183,10],[311,1188,12],[790,1185,17],[844,1188,19],[578,1193,10],[1092,1196,11],[685,1221,12],[357,1212,12],[273,1220,11],[548,1233,11],[780,1233,15],[916,1236,19],[617,1238,11],[443,1243,10],[388,1259,10],[1161,1244,12],[1118,1245,11],[1075,1263,13],[488,1278,11],[910,1288,16],[352,1296,10],[703,1297,15],[767,1301,15],[1077,1315,10],[402,1327,9],[565,1336,11],[880,1345,15],[608,1351,10],[981,1359,11],[805,1395,9],[739,1405,9]];
const aWood_Planctomycetes=[[741,93,12],[700,124,12],[612,161,13],[827,166,17],[1051,185,9],[1127,227,13],[968,270,21],[648,271,17],[604,279,13],[411,311,13],[1087,318,22],[213,391,11],[920,396,25],[645,427,11],[1327,463,10],[592,515,12],[816,524,16],[449,538,16],[1361,550,10],[841,579,15],[638,594,18],[721,597,19],[345,605,15],[783,601,13],[114,601,10],[1102,597,11],[1270,578,12],[1368,611,11],[1317,601,11],[1145,622,17],[1251,626,13],[1096,644,15],[1250,674,14],[360,757,19],[1289,713,14],[1125,722,13],[1048,739,15],[701,786,15],[744,807,18],[219,795,13],[1379,781,11],[1018,794,17],[307,808,14],[431,821,11],[1023,836,18],[73,861,11],[1265,843,16],[982,864,15],[1132,868,13],[740,895,20],[698,902,13],[807,901,15],[644,912,16],[170,935,15],[1129,936,19],[1267,929,16],[1315,937,16],[811,957,18],[95,974,10],[649,972,20],[733,969,11],[518,983,15],[566,984,17],[308,997,12],[969,1014,16],[1304,1007,15],[205,1041,14],[300,1044,15],[941,1056,19],[1000,1049,20],[1301,1047,13],[342,1080,13],[424,1093,15],[225,1111,10],[610,1103,11],[740,1144,16],[1213,1117,12],[1182,1154,13],[675,1172,12],[1191,1203,13],[315,1253,10],[821,1334,14],[631,1398,11],[690,1408,9]];
const aWood_Bacteroidetes=[[909,115,9],[961,114,10],[413,146,9],[991,194,19],[510,174,11],[560,175,11],[393,199,10],[312,231,9],[623,335,10],[764,331,10],[1240,327,11],[1018,351,16],[886,360,28],[148,396,9],[864,415,23],[1147,412,17],[786,436,14],[822,445,18],[1107,440,21],[465,433,19],[334,431,16],[731,526,15],[391,523,15],[936,532,18],[1338,508,10],[425,576,20],[1212,574,10],[938,607,14],[424,645,19],[733,640,17],[61,640,10],[107,659,15],[228,672,20],[732,685,15],[488,673,17],[380,695,17],[184,710,18],[127,701,11],[652,705,17],[700,727,18],[245,729,16],[1241,721,11],[1003,731,10],[742,751,19],[83,759,13],[1327,751,10],[526,780,17],[73,804,14],[1213,775,9],[1162,792,11],[1226,825,17],[290,865,19],[168,875,15],[213,877,17],[385,863,13],[547,866,13],[1296,878,16],[889,908,12],[125,929,10],[303,931,16],[992,918,9],[851,939,12],[685,949,13],[348,957,13],[1173,951,10],[1216,953,17],[1093,966,10],[1273,974,17],[869,989,9],[1351,981,10],[243,1009,12],[612,1016,13],[465,1022,11],[397,1052,10],[1154,1052,14],[650,1068,14],[833,1085,15],[1065,1060,15],[460,1070,10],[254,1073,12],[1158,1108,14],[1265,1120,11],[480,1133,14],[540,1136,10],[1103,1140,13],[522,1183,10],[634,1196,12],[744,1192,11],[997,1213,9],[1041,1226,14],[498,1224,11],[853,1245,14],[662,1265,9],[1008,1276,10],[597,1282,10],[948,1312,12],[439,1295,10],[726,1341,10],[452,1360,9],[517,1373,9],[922,1374,12],[572,1396,10],[858,1393,12]];
const aWood_Firmicutes=[[566,120,10],[232,287,9],[319,313,11],[1181,258,11],[748,245,16],[808,232,22],[434,355,17],[563,403,15],[120,463,11],[688,449,22],[340,541,21],[585,561,16],[216,632,15],[677,612,16],[283,658,18],[656,757,14],[489,811,17],[945,830,11],[184,990,13],[663,1026,12],[791,1057,17],[777,1096,17],[275,1145,10],[893,1195,12]];
const aWood_Cyanobacteria=[[796,131,14],[928,180,22],[786,195,15],[480,350,17],[327,388,15],[717,402,13],[1197,436,12],[557,463,16],[536,517,20],[1261,487,12],[862,533,13],[303,610,19],[623,636,11],[1058,652,19],[1200,678,11],[830,719,12],[1081,710,14],[396,799,19],[1302,807,13],[814,827,18],[718,840,15],[341,904,12],[1074,857,10],[1236,887,17],[711,1019,10],[838,1032,10],[1138,1010,17],[306,1111,12],[509,1094,11],[816,1145,14],[185,1148,9],[736,1252,10]];
const aWood_Verrucomivrobia=[[518,113,11],[844,90,12],[279,332,10],[980,324,21],[1012,454,20],[486,496,15],[588,607,17],[607,677,19],[663,820,19],[607,830,14],[609,872,15],[774,937,18],[422,957,14],[601,950,13],[928,945,10],[1187,1006,17],[1245,1170,9]];
const aWood_Acidobacteria=[[923,260,20],[809,276,21],[601,386,13],[638,543,11],[869,613,13],[855,668,16],[383,625,22],[1146,682,10],[891,799,10],[127,838,12],[213,949,10],[595,1146,11],[406,1198,10],[961,1259,11],[648,1316,9]];
const aWood_Actinobacteria=[[1049,265,21],[1131,288,20],[1197,311,11],[825,311,20],[566,248,11],[511,275,12],[561,309,13],[797,361,24],[830,384,25],[487,399,11],[899,450,20],[931,466,21],[964,502,20],[1077,493,22],[438,481,15],[1108,546,15],[154,559,11],[161,500,10],[1017,623,15],[979,629,11],[428,687,11],[919,656,13],[774,862,10],[1092,900,18],[234,1181,9],[543,1282,10]];
const aWood_Chloroflexi=[[1059,354,20],[680,500,11],[381,572,13],[453,721,21],[836,778,14],[616,787,17],[1118,816,16],[1182,834,16],[245,845,13],[847,857,12],[257,914,10],[713,1105,11],[1110,1077,10],[1023,1316,9],[493,1331,9],[672,1359,9]];
const aWood_Others=[[601,83,10],[470,142,10],[745,162,13],[527,347,11],[387,385,16],[1212,379,13],[722,477,16],[771,482,19],[1041,530,17],[299,560,10],[1155,571,17],[1186,627,12],[1376,658,9],[276,699,16],[908,706,17],[1348,698,10],[615,742,16],[135,788,13],[556,809,17],[447,860,14],[1336,898,16],[557,911,14],[516,933,14],[769,1015,19],[1034,1009,17],[1081,1014,13],[899,1041,19],[379,1113,13],[919,1109,13],[989,1151,13],[1137,1175,16],[950,1199,19],[821,1276,17],[867,1295,16]];
const aWood_pink=[[786,74,1007,137],[1007,137,1240,327],[1240,327,1390,729],[1390,729,1384,869],[1384,869,1351,981],[1351,981,1245,1170],[1245,1170,1023,1316],[640,118,342,193],[342,193,148,396],[148,396,61,640],[61,640,68,705],[68,705,85,908],[85,908,171,1092],[171,1092,352,1296],[352,1296,572,1396],[680,230,910,330],[750,290,1110,350],[860,240,1050,450],[1000,240,960,420],[1130,290,960,500],[1110,355,1200,490],[1080,400,870,490],[770,550,920,400],[660,375,880,290],[200,550,480,570],[300,500,520,445],[260,615,520,690],[170,605,460,605],[160,655,410,740],[140,750,510,735],[180,820,410,740],[335,860,570,725],[290,865,660,820],[170,935,460,915],[260,965,520,985],[130,1005,360,1010],[205,1040,420,1010],[300,1045,560,1080],[420,1095,660,1125],[350,1150,570,1040],[270,1220,460,1180],[490,1280,790,1185],[700,1300,870,1150],[910,1290,1040,1170],[1075,1260,1160,1110],[1190,1200,1300,1050],[1130,940,1300,1010],[1050,930,1210,1065],[930,990,1130,870],[900,1040,1180,890],[1000,1050,1270,930],[740,895,1020,795],[650,970,740,810],[810,955,1020,840],[940,890,1260,770],[1100,720,1330,750],[1020,680,1300,650],[950,740,1180,730],[770,715,1050,740],[600,680,720,840],[610,780,810,900],[520,690,740,895],[350,610,560,640],[480,570,720,600],[760,1060,1000,1050],[560,1080,800,1185],[660,1120,870,1150]];
const aWood_green=[[601,83,413,146],[413,146,232,287],[232,287,120,463],[120,463,73,640],[667,71,844,90],[844,90,1007,137],[1181,258,1327,463],[1327,463,1380,620],[1380,620,1351,981],[80,860,170,1090],[170,1090,234,1181],[234,1181,500,1330],[500,1330,690,1400],[690,1400,950,1310],[808,232,720,345],[690,450,560,400],[690,450,860,415],[430,355,330,385],[530,515,690,450],[340,540,490,400],[620,635,850,670],[1060,650,1240,720],[1090,900,1240,890],[1020,1000,1135,1010],[790,1060,910,1040],[780,1100,890,1040],[490,810,620,830],[660,760,810,830],[280,1145,380,1115],[510,1095,650,1070],[740,1145,890,1195],[820,1275,950,1200],[570,1395,730,1340],[860,1395,1010,1280],[1180,1150,1265,1120],[600,1150,680,1220],[900,700,1060,650],[1080,710,1200,680],[1150,570,1270,580],[990,570,1150,620]];

// ---- B / ACF
const bACF_Chlorophyta=[[687,98,14],[811,110,14],[1028,186,22],[848,223,13],[635,669,41],[1050,678,28],[555,775,34],[1153,842,28],[602,879,33],[114,948,18],[1118,1248,22],[496,1345,28]];
const bACF_Rotifera=[[928,142,15],[1145,253,19],[541,276,24],[666,336,29],[565,392,36],[1076,482,13],[1143,587,16],[800,971,34],[1267,1074,13],[710,1380,34]];
const bACF_Annelida=[[441,162,13],[1233,356,13],[921,510,22],[97,568,14],[706,571,21],[433,578,34],[1366,687,18],[1269,765,16],[374,926,31],[295,1226,13]];
const bACF_Ascomycota=[[212,347,21],[1301,459,12],[1248,639,20],[869,869,47],[691,1036,42],[519,1108,25],[729,1155,33],[399,1286,19]];
const bACF_Bacillariophyta=[[731,216,20],[922,298,24],[637,473,41],[1343,953,19],[573,1002,27],[420,1173,25]];
const bACF_Platyhelminthes=[[1036,294,19],[755,461,25],[172,668,17],[325,822,28],[696,934,42],[919,1323,28]];
const bACF_Arthropoda=[[502,682,38],[1336,570,16],[459,819,37],[1123,1073,33],[927,1107,35]];
const bACF_Gastrotricha=[[623,205,13],[857,407,13],[146,457,17],[606,1373,30]];
const bACF_Chytridiomycota=[[1052,798,35],[1259,894,15],[495,925,20]];
const bACF_Zoopagomycota=[];
const bACF_Others=[[551,125,15],[315,235,13],[424,268,13],[773,330,25],[319,352,14],[1123,374,19],[988,402,19],[447,385,35],[264,462,25],[381,471,28],[513,499,34],[1200,488,13],[225,577,16],[331,588,27],[571,587,42],[830,570,21],[1007,583,25],[769,669,36],[905,654,38],[74,709,16],[281,711,18],[395,715,34],[1161,716,18],[685,758,44],[836,753,31],[951,768,36],[185,796,20],[83,838,20],[1364,814,21],[749,841,43],[987,895,41],[226,900,21],[1085,947,21],[906,983,30],[1190,985,16],[266,999,13],[1008,1029,34],[429,1035,13],[158,1046,22],[331,1089,16],[812,1084,27],[626,1136,26],[218,1140,19],[1047,1154,33],[1196,1167,26],[532,1229,36],[832,1215,36],[950,1214,33],[631,1260,25],[746,1277,38],[1026,1320,23],[823,1375,32]];
const bACF_pink=[[551,125,687,98],[811,110,928,142],[928,142,850,223],[850,223,805,500],[731,216,540,276],[540,276,770,330],[731,216,775,330],[1145,253,920,298],[1145,253,1123,374],[1036,294,988,402],[920,298,988,402],[1123,374,988,402],[1145,253,1036,294],[212,347,146,457],[212,347,264,462],[146,457,97,568],[447,385,637,473],[565,392,381,471],[264,462,513,499],[381,471,571,587],[857,407,640,350],[757,461,920,510],[921,510,830,570],[430,578,571,587],[331,588,503,682],[225,577,395,715],[172,668,331,588],[281,711,325,822],[635,669,1008,1029],[769,669,987,895],[905,654,870,869],[1007,583,1050,678],[1050,678,750,840],[1248,639,1050,678],[1153,842,1052,798],[1153,842,1123,1073],[1259,894,1123,1073],[1190,985,1008,1029],[685,758,1047,1154],[555,775,927,1107],[602,879,1196,1167],[459,819,812,1084],[503,682,869,869],[395,715,691,1036],[374,926,800,971],[495,925,906,983],[573,1002,987,895],[696,934,1052,798],[691,1036,1153,842],[800,971,1123,1073],[906,983,1047,1154],[836,753,1008,1029],[951,768,950,1214],[749,841,832,1215],[869,869,746,1277],[987,895,631,1260],[519,1108,1196,1167],[626,1136,1008,1029],[729,1155,1085,947],[812,1084,496,1345],[927,1107,606,1373],[1047,1154,710,1380],[1196,1167,823,1375],[1118,1248,823,1375],[1026,1320,710,1380],[919,1323,532,1229],[832,1215,420,1173],[746,1277,399,1286],[950,1214,606,1373],[532,1229,823,1375],[631,1260,1026,1320],[496,1345,1118,1248],[83,838,226,900],[83,838,218,1140],[114,948,185,796],[158,1046,226,900],[114,948,218,1140],[266,999,218,1140],[1248,639,1343,953],[1269,765,1343,953],[1336,570,1364,814],[1336,570,1269,765],[1366,687,1364,814],[635,669,836,753],[635,669,602,879],[555,775,987,895],[503,682,749,841],[769,669,1153,842],[1007,583,750,840],[700,570,905,983]];
const bACF_green=[[687,98,848,223],[551,125,575,270],[441,162,424,268],[623,205,424,268],[315,235,424,268],[541,276,447,385],[666,336,381,471],[922,298,1028,186],[773,330,1028,186],[1028,186,1036,294],[1028,186,1123,374],[1233,356,1143,587],[1200,488,1301,459],[921,510,1143,587],[1143,587,1161,716],[1143,587,1364,814],[212,347,319,352],[319,352,447,385],[172,668,264,462],[172,668,381,471],[433,578,264,462],[637,473,502,682],[637,473,659,669],[571,587,433,578],[755,461,637,473],[706,571,850,750],[921,510,905,654],[921,510,985,750],[374,926,573,900],[374,926,696,960],[459,819,374,926],[395,715,374,926],[325,822,217,1140],[295,1226,250,1000],[331,1089,399,1286],[429,1035,519,1108],[519,1108,420,1173],[74,709,185,796],[1248,639,1269,765],[1269,765,1366,687],[1269,765,1343,953],[691,1036,637,473]];

// ---- B / PVC
const bPVC_Chlorophyta=[[514,143,17],[939,268,17],[986,507,15],[1320,461,15],[511,633,21],[733,723,30],[654,800,19],[363,905,29],[1227,927,19],[453,970,19],[875,985,31],[576,998,46],[182,1030,15],[507,1089,36],[650,1275,38],[967,1326,19],[705,1378,22]];
const bPVC_Rotifera=[[620,316,30],[433,458,40],[1205,472,23],[645,547,25],[398,571,31],[768,467,15],[1211,585,20],[548,750,28],[1142,818,18],[673,914,26],[1177,1045,13],[378,1072,18],[1148,1193,17],[902,1241,31]];
const bPVC_Annelida=[[607,199,15],[1167,259,24],[108,692,15],[1069,1075,15],[435,1182,13],[329,1214,13],[433,1298,22]];
const bPVC_Ascomycota=[[795,101,13],[509,277,33],[1255,814,20],[1305,1022,18],[1243,1135,18],[776,1278,36]];
const bPVC_Bacillariophyta=[[411,335,31],[1004,382,20],[655,437,24],[192,465,18],[865,548,22],[953,631,22],[992,973,17],[254,1132,15],[1021,1182,18],[1079,1281,14]];
const bPVC_Platyhelminthes=[[314,269,29],[238,357,34]];
const bPVC_Arthropoda=[[735,339,19],[893,432,22],[123,559,13],[293,1005,18]];
const bPVC_Gastrotricha=[[630,661,31],[782,923,18],[721,1172,35]];
const bPVC_Chytridiomycota=[[530,522,30],[317,670,17],[923,753,22],[332,796,28],[796,815,33],[685,1037,44],[838,1157,35]];
const bPVC_Zoopagomycota=[[327,421,30],[455,821,22]];
const bPVC_Others=[[667,103,13],[410,198,20],[1034,168,16],[725,214,14],[839,212,14],[1057,274,16],[1127,377,20],[1247,353,22],[840,335,22],[538,403,24],[1093,496,15],[289,532,31],[1336,571,16],[753,592,18],[214,623,18],[1073,614,24],[1151,695,15],[1263,696,19],[838,677,29],[421,707,29],[1375,676,20],[219,752,16],[1037,737,26],[116,811,22],[1368,795,21],[239,881,16],[555,886,31],[910,865,15],[1027,857,27],[136,926,16],[1110,943,18],[1352,914,15],[788,1059,41],[616,1137,38],[940,1094,25],[544,1228,13],[558,1349,16],[850,1366,18]];
const bPVC_pink=[[795,101,921,129],[921,129,725,214],[607,199,1034,168],[410,198,620,316],[314,269,509,277],[314,269,620,316],[238,357,509,277],[238,357,620,316],[314,269,411,335],[411,335,620,316],[238,357,433,458],[327,421,620,316],[327,421,530,522],[514,143,620,316],[607,199,433,458],[433,458,655,437],[620,316,840,335],[735,339,1004,382],[840,335,939,268],[840,335,1034,168],[1034,168,1057,274],[1057,274,1205,472],[1004,382,1247,353],[1167,259,1004,382],[1167,259,1127,377],[1167,259,1205,472],[1167,259,1320,461],[1247,353,1205,472],[1127,377,986,507],[1205,472,1320,461],[655,437,893,432],[893,432,1211,585],[768,467,865,548],[645,547,865,548],[538,403,645,547],[192,465,289,532],[289,532,398,571],[398,571,511,633],[123,559,108,692],[108,692,116,811],[289,532,332,796],[398,571,421,707],[530,522,421,707],[630,661,548,750],[630,661,433,458],[548,750,363,905],[511,633,455,821],[421,707,332,796],[219,752,421,707],[733,723,576,998],[838,677,796,815],[953,631,1211,585],[1073,614,1336,571],[1151,695,1375,676],[1263,696,1037,737],[1375,676,1027,857],[1368,795,1037,737],[1263,696,1368,795],[1255,814,1375,676],[1142,818,1368,795],[1227,927,1211,585],[1227,927,1255,814],[1352,914,1243,1135],[1305,1022,1243,1135],[1110,943,1177,1045],[1177,1045,1148,1193],[1027,857,1021,1182],[796,815,910,865],[796,815,673,914],[555,886,576,998],[363,905,576,998],[453,970,507,1089],[293,1005,576,998],[576,998,685,1037],[576,998,616,1137],[875,985,796,815],[875,985,685,1037],[685,1037,838,1157],[507,1089,616,1137],[616,1137,721,1172],[788,1059,721,1172],[940,1094,838,1157],[902,1241,721,1172],[650,1275,902,1241],[776,1278,902,1241],[433,1298,650,1275],[433,1298,507,1089],[558,1349,507,1089],[705,1378,967,1326],[705,1378,650,1275],[378,1072,433,1298],[329,1214,507,1180],[1148,1193,1079,1281],[238,357,289,532]];
const bPVC_green=[[667,103,768,467],[768,467,865,548],[514,143,530,270],[509,277,433,458],[314,269,340,421],[238,357,298,480],[289,532,433,458],[289,532,214,623],[214,623,239,881],[214,623,116,811],[214,623,136,926],[108,692,136,926],[136,926,182,1030],[239,881,435,750],[332,796,548,750],[548,750,654,800],[645,547,700,700],[630,661,654,800],[630,661,838,677],[838,677,923,753],[733,723,796,815],[1073,614,796,920],[953,631,796,815],[855,700,782,923],[782,923,685,1037],[796,815,910,865],[1142,818,1027,857],[1142,818,1069,1075],[992,973,1069,1075],[254,1132,650,1275],[254,1132,433,1298],[576,998,650,1150],[685,1037,776,1278],[721,1172,902,1241],[838,1100,940,1094],[453,970,440,820],[1021,1182,967,1326],[1243,1135,967,1326],[850,1366,1079,1281],[673,914,660,1000]];

// ---- B / Pebble
const bPeb_Chlorophyta=[[702,127,33],[566,250,38],[825,257,46],[463,313,36],[754,337,28],[870,393,46],[1245,410,25],[1001,501,41],[1318,507,25],[483,603,34],[1180,662,30],[287,689,21],[1075,700,34],[162,722,13],[938,737,21],[1360,833,19],[264,1059,18],[1035,1330,14],[916,1381,18]];
const bPeb_Rotifera=[[578,138,22],[823,131,22],[1065,207,15],[261,321,22],[1120,431,35],[1195,535,31],[408,698,28],[1129,1106,17],[1033,1194,15]];
const bPeb_Annelida=[[426,483,31],[732,587,35],[222,819,19],[986,948,16],[781,1057,15],[1224,1172,14],[457,1225,21],[464,1355,20]];
const bPeb_Ascomycota=[[938,282,47],[353,577,31],[1082,570,33],[465,827,22],[896,865,17],[1105,932,13],[804,1295,15]];
const bPeb_Bacillariophyta=[[687,238,38],[1184,305,20],[674,479,42],[1375,705,14],[823,768,21],[1235,887,15],[585,902,17],[1192,1007,14],[587,1033,19],[681,1125,25],[1135,1260,17],[573,1285,26],[689,1378,24],[581,1405,18]];
const bPeb_Platyhelminthes=[[181,417,15],[233,940,15]];
const bPeb_Arthropoda=[[350,250,13],[1264,757,14],[354,1300,14]];
const bPeb_Gastrotricha=[[838,644,40],[342,797,24]];
const bPeb_Chytridiomycota=[[222,587,21],[1146,802,25],[478,1088,20],[1031,1057,18]];
const bPeb_Zoopagomycota=[[82,639,14]];
const bPeb_Others=[[450,177,21],[933,159,29],[1067,320,42],[636,361,35],[366,384,25],[535,403,43],[985,392,25],[281,475,13],[781,463,49],[557,515,42],[873,529,42],[124,526,13],[613,621,32],[964,620,40],[1304,618,20],[697,706,35],[528,722,22],[68,790,16],[613,797,17],[722,840,14],[1024,824,18],[106,898,21],[350,914,21],[475,950,19],[805,932,20],[690,973,18],[1333,955,16],[125,1009,19],[375,1026,15],[898,1026,19],[1294,1070,14],[173,1123,13],[359,1154,21],[569,1166,29],[799,1174,26],[924,1142,16],[258,1214,14],[690,1250,16],[924,1262,16],[794,1415,12]];
const bPeb_pink=[[261,321,450,177],[450,177,702,127],[578,138,823,131],[702,127,933,159],[823,131,938,282],[578,138,463,313],[702,127,566,250],[702,127,825,257],[566,250,825,257],[687,238,938,282],[687,238,636,361],[566,250,535,403],[463,313,754,337],[261,321,463,313],[366,384,566,250],[535,403,781,463],[636,361,873,529],[754,337,557,515],[825,257,781,463],[870,393,674,479],[870,393,1067,320],[938,282,1245,410],[1067,320,1318,507],[1065,207,1245,410],[1184,305,1318,507],[1120,431,1318,507],[1195,535,1245,410],[1001,501,1195,535],[985,392,1120,431],[1001,501,1180,662],[1082,570,1075,700],[964,620,1180,662],[1075,700,1146,802],[1180,662,1146,802],[1304,618,1180,662],[1318,507,1360,833],[1264,757,1375,705],[1146,802,1360,833],[1146,802,1235,887],[838,644,1075,700],[838,644,535,403],[732,587,557,515],[697,706,483,603],[613,621,408,698],[287,689,483,603],[353,577,535,403],[426,483,535,403],[483,603,674,479],[408,698,697,706],[287,689,342,797],[528,722,697,706],[697,706,1024,824],[823,768,938,737],[938,737,1075,700],[938,737,896,865],[1024,824,1146,802],[938,737,1035,1330],[896,865,690,973],[986,948,1333,955],[805,932,986,948],[1105,932,986,948],[898,1026,1129,1106],[1031,1057,1033,1194],[1031,1057,1129,1106],[1129,1106,1135,1260],[82,639,181,417],[124,526,173,1123],[222,819,475,950],[222,819,465,827],[106,898,264,1059],[106,898,359,1154],[233,940,478,1088],[350,914,475,950],[264,1059,125,1009],[375,1026,569,1166],[475,950,681,1125],[585,902,799,1174],[587,1033,781,1057],[681,1125,781,1057],[569,1166,457,1225],[569,1166,799,1174],[799,1174,1033,1194],[457,1225,573,1285],[573,1285,804,1295],[573,1285,464,1355],[354,1300,573,1285],[464,1355,689,1378],[569,1166,464,1355],[799,1174,689,1378],[924,1262,804,1295],[581,1405,794,1415],[794,1415,916,1381],[681,1125,464,1355],[569,1166,689,1378]];
const bPeb_green=[[261,321,181,417],[350,250,490,400],[366,384,281,475],[222,587,426,483],[222,587,281,475],[222,587,353,577],[222,587,483,603],[222,587,342,797],[222,587,408,698],[181,417,222,819],[181,417,168,700],[342,797,483,603],[342,797,408,698],[465,827,528,722],[528,722,697,706],[838,644,1000,550],[781,463,1082,570],[1001,501,1082,570],[1120,431,1082,570],[1195,535,1082,570],[1082,570,1180,662],[613,797,722,840],[408,698,613,797],[613,797,585,902],[613,797,898,1026],[106,898,350,914],[125,1009,350,914],[264,1059,350,914],[162,722,173,1123],[68,790,258,1214],[375,1026,475,950],[478,1088,690,973],[690,973,781,1057],[478,1088,569,1166],[898,1026,1031,1057],[1031,1057,1192,1007],[898,1026,799,1174],[986,948,924,1142],[681,1125,1033,1194],[569,1166,581,1290],[916,1381,1135,1260]];

// ---- B / Wood
const bWood_Chlorophyta=[[645,126,20],[1025,223,31],[785,296,22],[624,324,19],[528,354,17],[1255,346,35],[813,394,26],[549,459,36],[1103,460,33],[589,554,38],[444,643,38],[328,659,18],[554,739,41],[1134,743,31],[1342,786,15],[752,807,26],[383,842,30],[955,824,30],[1387,975,22],[813,1022,14],[988,1037,30],[167,1070,13],[1174,1125,26],[454,1372,18],[1064,1365,18]];
const bWood_Rotifera=[[264,327,19],[488,537,37],[208,579,28],[893,613,33],[642,1061,24],[378,1192,27],[639,1260,33]];
const bWood_Annelida=[[808,1181,32],[995,1233,33],[858,1275,33],[863,1372,30]];
const bWood_Ascomycota=[[1177,285,29],[457,423,23],[928,505,39],[1106,564,37],[537,650,36],[1328,676,15],[235,1000,15],[1085,1063,20],[1290,1180,24],[285,1233,15],[539,1330,26]];
const bWood_Bacillariophyta=[[541,146,19],[983,316,36],[1017,405,34],[1237,437,30],[1338,438,13],[835,491,43],[298,565,30],[1045,681,21],[201,905,21],[858,899,21],[128,979,15],[590,1135,15],[1092,1172,22],[754,1260,17]];
const bWood_Platyhelminthes=[[1024,518,36],[563,857,28],[719,999,16],[1186,1021,16]];
const bWood_Arthropoda=[[658,839,29],[559,1230,35],[460,1255,27]];
const bWood_Gastrotricha=[];
const bWood_Chytridiomycota=[[912,224,22],[522,245,18],[743,473,38],[238,683,26],[422,733,38],[100,782,14],[210,788,25],[1040,781,34],[690,1178,36],[762,1348,31],[1166,1308,12],[1428,747,11]];
const bWood_Zoopagomycota=[[1420,866,13]];
const bWood_Others=[[741,111,13],[851,110,14],[964,146,21],[433,191,12],[1110,208,28],[812,191,15],[618,221,19],[712,227,15],[353,252,13],[438,304,17],[881,315,30],[1083,316,36],[712,358,23],[347,367,15],[1145,381,37],[206,413,23],[919,405,22],[635,426,14],[282,460,26],[373,466,28],[162,499,22],[675,534,41],[1190,522,36],[398,567,38],[804,568,27],[1285,548,33],[1380,540,15],[113,602,19],[633,645,37],[724,629,36],[989,608,19],[1147,646,31],[1237,625,32],[1412,636,13],[137,697,18],[844,694,17],[943,712,18],[749,717,32],[1235,730,17],[318,763,23],[651,740,36],[483,803,30],[857,801,18],[1249,826,16],[1154,839,31],[281,857,15],[109,875,18],[1067,873,20],[454,908,16],[753,905,16],[1322,897,24],[982,928,30],[331,940,18],[1198,927,22],[538,958,13],[632,955,19],[429,999,28],[907,984,27],[1083,967,24],[1283,985,22],[332,1034,18],[531,1059,25],[1360,1073,15],[420,1095,31],[752,1107,29],[882,1100,29],[1263,1091,25],[299,1121,18],[489,1156,33],[997,1133,32],[213,1154,15],[913,1188,31],[1206,1225,15],[1078,1270,21],[364,1300,14],[953,1317,31],[653,1350,33],[571,1418,17],[704,1434,13],[802,1447,15],[959,1413,17]];
const bWood_pink=[[433,191,264,327],[353,252,522,245],[522,245,645,126],[541,146,522,245],[741,111,851,110],[851,110,712,227],[964,146,812,191],[964,146,1110,208],[1025,223,1110,208],[912,224,1025,223],[881,315,1025,223],[983,316,1145,381],[1083,316,1255,346],[1145,381,1237,437],[1177,285,1255,346],[1255,346,1237,625],[1285,548,1237,437],[1103,460,1190,522],[1017,405,1190,522],[813,394,881,315],[785,296,713,358],[624,324,812,191],[549,459,743,473],[743,473,835,491],[488,537,589,554],[589,554,675,534],[398,567,488,537],[298,565,398,567],[208,579,398,567],[113,602,298,565],[282,460,444,643],[373,466,537,650],[444,643,633,645],[537,650,724,629],[422,733,554,739],[554,739,749,717],[651,740,633,645],[238,683,444,643],[210,788,422,733],[318,763,554,739],[383,842,554,739],[483,803,651,740],[563,857,749,717],[658,839,724,629],[100,782,137,697],[100,782,109,875],[137,697,206,413],[109,875,331,940],[201,905,429,999],[332,1034,531,1059],[213,1154,420,1095],[420,1095,642,1061],[489,1156,690,1178],[559,1230,808,1181],[639,1260,858,1275],[690,1178,995,1233],[808,1181,953,1317],[913,1188,653,1350],[997,1133,762,1348],[858,1275,653,1350],[863,1372,995,1233],[1078,1270,953,1317],[988,1037,913,1188],[882,1100,858,1275],[752,1107,1092,1172],[1174,1125,997,1133],[1322,897,1387,975],[1283,985,1387,975],[1412,636,1420,866],[1380,540,1428,747],[1328,676,1428,747],[1342,786,1322,897],[1154,839,1322,897],[1134,743,1283,985],[1040,781,982,928],[955,824,1067,873],[1040,781,1235,730],[907,984,1174,1125],[1198,927,1283,985],[1083,967,1174,1125],[454,1372,559,1230],[539,1330,802,1447],[571,1418,762,1348],[704,1434,863,1372],[802,1447,858,1275],[959,1413,863,1372],[1064,1365,1166,1308],[1064,1365,995,1233],[743,473,928,505],[1024,518,1147,646],[893,613,1147,646],[1106,564,1237,625]];
const bWood_green=[[541,146,618,221],[618,221,645,126],[522,245,712,227],[206,413,282,460],[206,413,162,499],[282,460,113,602],[162,499,208,579],[373,466,635,426],[457,423,812,440],[264,327,206,413],[347,367,457,423],[438,304,712,358],[813,394,919,405],[835,491,928,505],[928,505,1024,518],[835,491,1106,564],[1017,405,1237,437],[1106,564,1190,522],[1338,438,1412,636],[1380,540,1338,438],[1328,676,1285,548],[893,613,1045,681],[804,568,893,613],[1045,681,1147,646],[1045,681,1134,743],[844,694,955,824],[749,717,844,694],[1198,927,1186,1021],[1186,1021,1283,985],[1085,1063,1186,1021],[1263,1091,1360,1073],[1283,985,1290,1180],[1290,1180,1078,1270],[858,899,753,905],[563,857,753,905],[201,905,128,979],[201,905,331,940],[235,1000,332,1034],[299,1121,378,1192],[285,1233,460,1255],[378,1192,559,1230],[559,1230,719,999],[642,1061,590,1135],[719,999,531,1059],[813,1022,882,1100],[639,1260,539,1330],[364,1300,539,1400],[571,1418,802,1447],[1206,1225,1078,1270],[1166,1308,1078,1270]];

const styleA={bw:1.6,rs:1.2,pinkBends:[0.05,-0.13,-0.27],greenBends:[0.05,-0.14],pinkW:1.3,pinkA:'rgba(232,140,165,0.7)',greenW:1.2,greenA:'rgba(120,198,168,0.8)'};
const styleB={bw:2,rs:1.08,pinkBends:[0.1,-0.14],greenBends:[0.1],pinkW:1.1,pinkA:'rgba(232,140,165,0.85)',greenW:1.2,greenA:'rgba(115,195,165,0.95)'};
const panels=[
 {ox:30,oy:25,names:bacteriaPhyla,colors:bacteriaColors,st:styleA,series:[aACF_Proteobacteria,aACF_Planctomycetes,aACF_Bacteroidetes,aACF_Firmicutes,aACF_Cyanobacteria,aACF_Verrucomivrobia,aACF_Acidobacteria,aACF_Actinobacteria,aACF_Chloroflexi,aACF_Others],pink:aACF_pink,green:aACF_green},
 {ox:565,oy:25,names:bacteriaPhyla,colors:bacteriaColors,st:styleA,series:[aPVC_Proteobacteria,aPVC_Planctomycetes,aPVC_Bacteroidetes,aPVC_Firmicutes,aPVC_Cyanobacteria,aPVC_Verrucomivrobia,aPVC_Acidobacteria,aPVC_Actinobacteria,aPVC_Chloroflexi,aPVC_Others],pink:aPVC_pink,green:aPVC_green},
 {ox:30,oy:565,names:bacteriaPhyla,colors:bacteriaColors,st:styleA,series:[aPeb_Proteobacteria,aPeb_Planctomycetes,aPeb_Bacteroidetes,aPeb_Firmicutes,aPeb_Cyanobacteria,aPeb_Verrucomivrobia,aPeb_Acidobacteria,aPeb_Actinobacteria,aPeb_Chloroflexi,aPeb_Others],pink:aPeb_pink,green:aPeb_green},
 {ox:565,oy:565,names:bacteriaPhyla,colors:bacteriaColors,st:styleA,series:[aWood_Proteobacteria,aWood_Planctomycetes,aWood_Bacteroidetes,aWood_Firmicutes,aWood_Cyanobacteria,aWood_Verrucomivrobia,aWood_Acidobacteria,aWood_Actinobacteria,aWood_Chloroflexi,aWood_Others],pink:aWood_pink,green:aWood_green},
 {ox:30,oy:1150,names:eukaryotePhyla,colors:eukaryoteColors,st:styleB,series:[bACF_Chlorophyta,bACF_Rotifera,bACF_Annelida,bACF_Ascomycota,bACF_Bacillariophyta,bACF_Platyhelminthes,bACF_Arthropoda,bACF_Gastrotricha,bACF_Chytridiomycota,bACF_Zoopagomycota,bACF_Others],pink:bACF_pink,green:bACF_green},
 {ox:570,oy:1150,names:eukaryotePhyla,colors:eukaryoteColors,st:styleB,series:[bPVC_Chlorophyta,bPVC_Rotifera,bPVC_Annelida,bPVC_Ascomycota,bPVC_Bacillariophyta,bPVC_Platyhelminthes,bPVC_Arthropoda,bPVC_Gastrotricha,bPVC_Chytridiomycota,bPVC_Zoopagomycota,bPVC_Others],pink:bPVC_pink,green:bPVC_green},
 {ox:30,oy:1700,names:eukaryotePhyla,colors:eukaryoteColors,st:styleB,series:[bPeb_Chlorophyta,bPeb_Rotifera,bPeb_Annelida,bPeb_Ascomycota,bPeb_Bacillariophyta,bPeb_Platyhelminthes,bPeb_Arthropoda,bPeb_Gastrotricha,bPeb_Chytridiomycota,bPeb_Zoopagomycota,bPeb_Others],pink:bPeb_pink,green:bPeb_green},
 {ox:570,oy:1700,names:eukaryotePhyla,colors:eukaryoteColors,st:styleB,series:[bWood_Chlorophyta,bWood_Rotifera,bWood_Annelida,bWood_Ascomycota,bWood_Bacillariophyta,bWood_Platyhelminthes,bWood_Arthropoda,bWood_Gastrotricha,bWood_Chytridiomycota,bWood_Zoopagomycota,bWood_Others],pink:bWood_pink,green:bWood_green}
];
const page=document.getElementById('page');
const PAD=20, CANVAS=540, UNITS=3;
function edgeDataset(e,bend,color,width,order){
  const [x1,y1,x2,y2]=e;
  return {type:'line',data:[{x:x1,y:y1},{x:(x1+x2)/2+bend*(y2-y1),y:(y1+y2)/2-bend*(x2-x1)},{x:x2,y:y2}],
    borderColor:color,borderWidth:width,pointRadius:0,tension:0.45,fill:false,clip:false,order};
}
panels.forEach(p=>{
  const c=document.createElement('canvas');
  c.width=CANVAS;c.height=CANVAS;
  c.style.cssText=`left:${p.ox-PAD}px;top:${p.oy-PAD}px;width:${CANVAS}px;height:${CANVAS}px`;
  page.appendChild(c);
  const st=p.st,datasets=[];
  p.series.forEach((s,i)=>datasets.push({type:'bubble',label:p.names[i],data:s.map(([x,y,r])=>({x,y,r:r*st.rs/UNITS})),
    backgroundColor:p.colors[i],borderColor:'#1c1c1c',borderWidth:st.bw,clip:false,order:1}));
  st.pinkBends.forEach(b=>p.pink.forEach(e=>datasets.push(edgeDataset(e,b,st.pinkA,st.pinkW,2))));
  st.greenBends.forEach(b=>p.green.forEach(e=>datasets.push(edgeDataset(e,b,st.greenA,st.greenW,3))));
  const min=-PAD*UNITS,max=(CANVAS-PAD)*UNITS;
  new Chart(c,{type:'bubble',data:{datasets},options:{
    responsive:false,animation:false,devicePixelRatio:1,events:[],layout:{padding:0,autoPadding:false},
    plugins:{legend:{display:false},tooltip:{enabled:false},title:{display:false}},
    scales:{x:{type:'linear',min,max,display:false},y:{type:'linear',min,max,reverse:true,display:false}}
  }});
});
function text(cls,str,x,y,size,center){
  const d=document.createElement('div');d.className=cls;d.textContent=str;
  d.style.left=x+'px';d.style.top=(y-(size||32)/2)+'px';
  if(size)d.style.fontSize=size+'px';
  if(center)d.style.transform='translateX(-50%)';
  page.appendChild(d);
}
text('h','A',12,29);
text('h','B',12,1162);
[["ACF",262,529],["PVC",807,526],["Pebble",268,1071],["Wood",807,1077],["ACF",262,1675],["PVC",821,1668],["Pebble",272,2223],["Wood",823,2223]].forEach(l=>text('t',l[0],l[1],l[2],34.5,true));
text('t','Bacteria',1213,420,34.8);
text('t','Microeukaryotes',1164,1458,34.8);
function legend(names,colors,sx,ys,xs){
  names.forEach((n,i)=>{
    const s=document.createElement('div');s.className='s';s.style.left=sx+'px';s.style.top=(ys[i]-9.5)+'px';s.style.background=colors[i];page.appendChild(s);
    text('t',n,xs[i],ys[i]-1,29);
  });
}
legend(bacteriaPhyla,bacteriaColors,1168,[477,515,555,593,630,669,707,745,783,822],[1211,1211,1212,1212,1212,1212,1212,1210,1211,1210]);
legend(eukaryotePhyla,eukaryoteColors,1171,[1516,1554,1594,1632,1669,1708,1747,1784,1823,1861,1899],[1212,1212,1214,1214,1214,1214,1215,1211,1212,1211,1211]);
</script></body></html>
